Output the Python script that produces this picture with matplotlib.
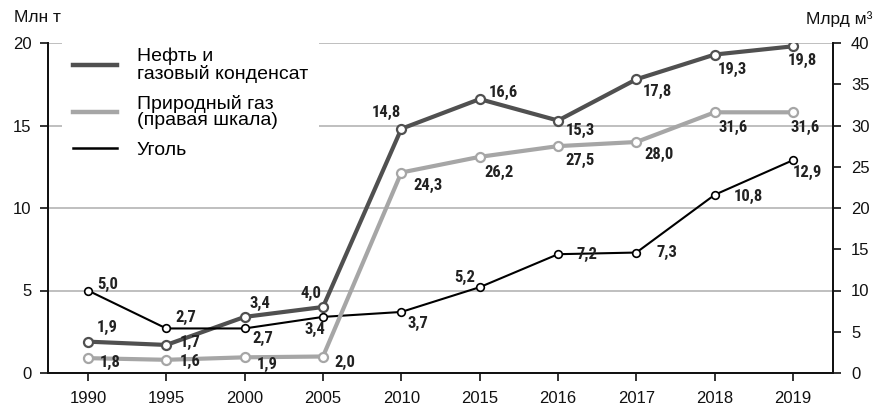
import matplotlib
matplotlib.use('Agg')
import matplotlib.pyplot as plt
from matplotlib.lines import Line2D
from matplotlib import font_manager

years = ['1990', '1995', '2000', '2005', '2010', '2015', '2016', '2017', '2018', '2019']
oil = [1.9, 1.7, 3.4, 4.0, 14.8, 16.6, 15.3, 17.8, 19.3, 19.8]      # млн т, left
gas = [1.8, 1.6, 1.9, 2.0, 24.3, 26.2, 27.5, 28.0, 31.6, 31.6]      # млрд м3, right
coal = [5.0, 2.7, 2.7, 3.4, 3.7, 5.2, 7.2, 7.3, 10.8, 12.9]         # млн т, left

legend_labels = ['Нефть и\nгазовый конденсат', 'Природный газ\n(правая шкала)', 'Уголь']

# label offsets in points (dx, dy)
oil_off = [(14, 10), (17, 2), (11, 10), (-9, 10), (-11, 12), (17, 5), (16, -7), (15, -9), (13, -11), (7, -10)]
gas_off = [(16, -3), (17, -1), (16, -5), (16, -4), (19, -9), (14, -11), (16, -10), (16, -9), (13, -11), (9, -11)]
coal_off = [(14, 4), (14, 8), (13, -7), (-6, -9), (12, -8), (-11, 7), (21, 0), (22, 0), (24, -1), (10, -9)]

names = {f.name for f in font_manager.fontManager.ttflist}
base_font = 'Liberation Sans' if 'Liberation Sans' in names else 'DejaVu Sans'
plt.rcParams['font.family'] = [base_font, 'DejaVu Sans']


def find_narrow_bold():
    # look for a condensed bold face for the value labels
    prefs = ['liberationsansnarrow-bold.', 'arialnarrowbold', 'robotocondensed-bold.',
             'notosans-condensedbold.', 'opensans-condensedbold', 'dejavusanscondensed-bold.']
    files = [f.fname for f in font_manager.fontManager.ttflist]
    for p in prefs:
        for fn in files:
            if p in fn.lower().replace(' ', '').replace('_', ''):
                return font_manager.FontProperties(fname=fn, size=12)
    return font_manager.FontProperties(family=base_font, weight='bold', size=12)


label_font = find_narrow_bold()

OIL_C = '#505050'
GAS_C = '#a6a6a6'
COAL_C = '#000000'

fig = plt.figure(figsize=(8.76, 4.05), dpi=100)
ax = fig.add_axes([48 / 876, 32 / 405, 785 / 876, 330 / 405])
ax2 = ax.twinx()

x = list(range(len(years)))

ax.plot(x, oil, color=OIL_C, lw=3, marker='o', ms=6.5, mfc='white', mec=OIL_C, mew=1.6, zorder=4)
ax.plot(x, coal, color=COAL_C, lw=1.5, marker='o', ms=5.5, mfc='white', mec=COAL_C, mew=1.2, zorder=5)
ax2.plot(x, gas, color=GAS_C, lw=3, marker='o', ms=6.5, mfc='white', mec=GAS_C, mew=1.6, zorder=4)


def put_labels(axis, vals, offs):
    for i, v in enumerate(vals):
        txt = f'{v:.1f}'.replace('.', ',')
        axis.annotate(txt, (i, v), xytext=offs[i], textcoords='offset points',
                      ha='center', va='center', fontproperties=label_font,
                      color='#222222', zorder=6)


put_labels(ax, oil, oil_off)
put_labels(ax, coal, coal_off)
put_labels(ax2, gas, gas_off)

ax.set_xlim(-0.51, 9.51)
ax.set_ylim(0, 20)
ax2.set_ylim(0, 40)
ax.set_yticks([0, 5, 10, 15, 20])
ax2.set_yticks([0, 5, 10, 15, 20, 25, 30, 35, 40])
ax.set_xticks(x)
ax.set_xticklabels(years)

ax.yaxis.grid(True, color='#b4b4b4', lw=1.2)
ax.xaxis.grid(False)
ax.set_axisbelow(True)

for a in (ax, ax2):
    a.spines['top'].set_visible(False)
    for s in ('left', 'right', 'bottom'):
        a.spines[s].set_linewidth(1.3)
        a.spines[s].set_color('#111111')
    a.tick_params(direction='out', length=6, width=1.2, labelsize=12, colors='#111111')
ax.tick_params(axis='x', pad=7)
ax.tick_params(axis='y', pad=6)
ax2.tick_params(axis='y', pad=7)

fig.text(14 / 876, 1 - 17 / 405, 'Млн т', fontsize=12.5, ha='left', va='center', color='#111111')
fig.text(872 / 876, 1 - 19 / 405, 'Млрд м³', fontsize=12.5, ha='right', va='center', color='#111111')

handles = [Line2D([], [], color=OIL_C, lw=3.2),
           Line2D([], [], color=GAS_C, lw=3.2),
           Line2D([], [], color=COAL_C, lw=1.8)]
leg = ax2.legend(handles, legend_labels, loc='upper left',
                 bbox_to_anchor=((62 - 48) / 785, (373 - 37) / 330),
                 frameon=True, fontsize=14, handlelength=2.3, handletextpad=1.0,
                 labelspacing=0.6, borderpad=0.55, borderaxespad=0)
leg.get_frame().set_facecolor('white')
leg.get_frame().set_edgecolor('none')
leg.get_frame().set_alpha(1)
leg.get_frame().set_boxstyle('square', pad=0)
for t in leg.get_texts():
    t.set_linespacing(0.98)
leg.set_zorder(10)

fig.savefig('out.png', dpi=100)
